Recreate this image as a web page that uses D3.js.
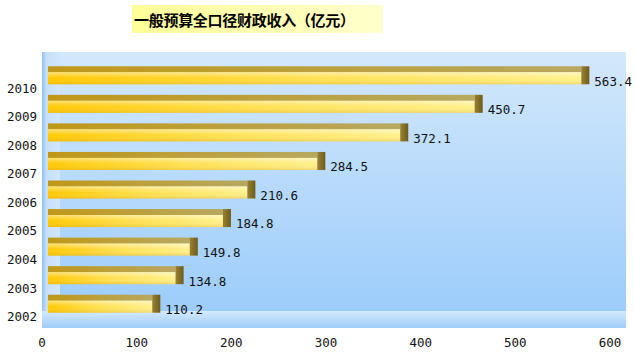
<!DOCTYPE html>
<html>
<head>
<meta charset="utf-8">
<script src="https://cdn.jsdelivr.net/npm/d3@7/dist/d3.min.js"></script>
<style>
  body { margin: 0; background: #fff; }
  svg { display: block; }
</style>
</head>
<body>
<svg id="chart" width="635" height="352"></svg>
<script>
// chart data
const years = ['2002', '2003', '2004', '2005', '2006', '2007', '2008', '2009', '2010'];
const revenue = [110.2, 134.8, 149.8, 184.8, 210.6, 284.5, 372.1, 450.7, 563.4];
const xTicks = [0, 100, 200, 300, 400, 500, 600];
const title = '一般预算全口径财政收入（亿元）';

const svg = d3.select('#chart');
const defs = svg.append('defs');
const monoFont = '"DejaVu Sans Mono", monospace';

// gradients
const addGrad = (id, x2, y2, stops) => {
  const g = defs.append('linearGradient').attr('id', id)
    .attr('x1', 0).attr('y1', 0).attr('x2', x2).attr('y2', y2);
  stops.forEach(([o, c]) => g.append('stop').attr('offset', o).attr('stop-color', c));
};
addGrad('wall', 0, 1, [[0, '#d3e8fb'], [1, '#99cbfb']]);
addGrad('leftWall', 1, 0, [[0, '#8fc2f6'], [0.25, '#c6e0f9'], [1, '#d0e6fb']]);
addGrad('floor', 0, 1, [[0, '#d4eafe'], [1, '#9ecbf7']]);
addGrad('titleBg', 1, 0, [[0, '#ffff99'], [1, '#ffffcc']]);
addGrad('front', 1, 0, [[0, '#ffc800'], [0.5, '#ffe050'], [1, '#fff08a']]);
addGrad('frontShade', 0, 1, [[0, 'rgba(255,255,255,0.45)'], [0.5, 'rgba(255,255,255,0)'], [1, 'rgba(200,140,0,0.25)']]);
addGrad('top', 1, 0, [[0, '#c09818'], [1, '#b8a860']]);
addGrad('cap', 1, 0, [[0, '#9a8030'], [1, '#6e5c1c']]);

// scales
const x = d3.scaleLinear().domain([0, 600]).range([42, 610]);
const y = d3.scaleBand().domain(years.slice().reverse()).range([74, 331]);

// plot area: back wall, left wall, floor
svg.append('rect').attr('x', 42).attr('y', 52).attr('width', 584).attr('height', 276)
  .attr('fill', 'url(#wall)');
svg.append('rect').attr('x', 42).attr('y', 52).attr('width', 18).attr('height', 259)
  .attr('fill', 'url(#leftWall)');
svg.append('rect').attr('x', 42).attr('y', 311).attr('width', 584).attr('height', 17)
  .attr('fill', 'url(#floor)');

// title
svg.append('rect').attr('x', 132).attr('y', 5).attr('width', 251).attr('height', 28)
  .attr('fill', 'url(#titleBg)');
svg.append('text').attr('x', 134).attr('y', 26)
  .style('font-family', '"Noto Sans CJK SC", sans-serif')
  .style('font-size', '15px').style('font-weight', 'bold')
  .attr('textLength', 221)
  .text(title);

// bars
const rows = years.map((yr, i) => ({ year: yr, value: revenue[i] }));
const bar = svg.append('g').selectAll('g').data(rows).enter().append('g')
  .attr('transform', d => `translate(0, ${y(d.year) + y.bandwidth() / 2})`);

bar.append('rect').attr('class', 'top')
  .attr('x', x(0) + 6).attr('y', -22)
  .attr('width', d => x(d.value) - x(0)).attr('height', 6)
  .attr('fill', 'url(#top)');
bar.append('rect').attr('class', 'front')
  .attr('x', x(0) + 6).attr('y', -16)
  .attr('width', d => x(d.value) - x(0)).attr('height', 12)
  .attr('fill', 'url(#front)');
bar.append('rect')
  .attr('x', x(0) + 6).attr('y', -16)
  .attr('width', d => x(d.value) - x(0)).attr('height', 12)
  .attr('fill', 'url(#frontShade)');
bar.append('rect').attr('class', 'cap')
  .attr('x', d => x(d.value) + 6).attr('y', -22)
  .attr('width', 8).attr('height', 18)
  .attr('fill', 'url(#cap)');

// value labels
bar.append('text')
  .attr('x', d => x(d.value) + 19).attr('y', -7)
  .attr('dy', '0.35em')
  .style('font-family', monoFont).style('font-size', '12.5px').style('fill', '#111')
  .text(d => d.value.toFixed(1));

// category labels
svg.append('g').selectAll('text').data(years).enter().append('text')
  .attr('x', 37).attr('y', d => y(d) + y.bandwidth() / 2)
  .attr('dy', '0.35em').attr('text-anchor', 'end')
  .style('font-family', monoFont).style('font-size', '12.5px').style('fill', '#111')
  .text(d => d);

// x axis tick labels
svg.append('g').selectAll('text').data(xTicks).enter().append('text')
  .attr('x', d => x(d)).attr('y', 343)
  .attr('dy', '0.35em').attr('text-anchor', 'middle')
  .style('font-family', monoFont).style('font-size', '12.5px').style('fill', '#111')
  .text(d => d);
</script>
</body>
</html>
